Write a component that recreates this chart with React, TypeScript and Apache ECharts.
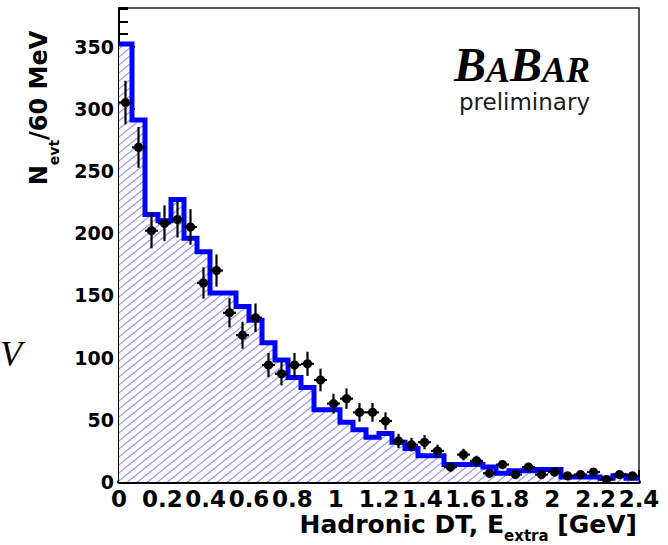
import React, { useEffect, useRef } from "react";
import * as echarts from "echarts";

// Histogram binning (GeV)
const BIN_WIDTH = 0.06;
const X_MIN = 0;
const X_MAX = 2.4;
const Y_MAX = 381;

// Simulated (blue) histogram, counts per 60 MeV bin
const mcCounts = [
  352, 291, 215, 210, 227, 196, 185, 152, 152, 141,
  130, 112, 98, 84, 76, 58, 58, 48, 42, 36,
  39, 32, 27, 21, 21, 14, 14, 14, 12, 7,
  9, 9, 10, 10, 4, 4, 4, 3, 5, 3,
];

// Data points (black) per bin
const dataCounts = [
  305, 269, 202, 208, 211, 205, 160, 170, 136, 118,
  132, 94, 87, 94, 95, 82, 63, 67, 56, 56,
  49, 33, 30, 32, 25, 12, 22, 17, 7, 14,
  6, 12, 6, 8, 5, 6, 8, 2, 6, 5,
];

// Statistical errors of the data points
const dataErrors = [
  17.5, 16.4, 14.2, 14.4, 14.5, 14.3, 12.6, 13, 11.7, 10.9,
  11.5, 9.7, 9.3, 9.7, 9.7, 9.1, 7.9, 8.2, 7.5, 7.5,
  7, 5.7, 5.5, 5.7, 5, 3.5, 4.7, 4.1, 2.6, 3.7,
  2.4, 3.5, 2.4, 2.8, 2.2, 2.4, 2.8, 1.4, 2.4, 2.2,
];

const yTitleParts = ["N", "evt", "/60 MeV"];
const xTitleParts = ["Hadronic DT, E", "extra", " [GeV]"];
const logoParts = ["B", "A", "B", "AR"];
const logoSub = "preliminary";

const SANS = "DejaVu Sans";

function makeHatch(): HTMLCanvasElement {
  const w = 10;
  const h = 8;
  const c = document.createElement("canvas");
  c.width = w;
  c.height = h;
  const ctx = c.getContext("2d")!;
  ctx.fillStyle = "#ffffff";
  ctx.fillRect(0, 0, w, h);
  ctx.strokeStyle = "#9494f4";
  ctx.lineWidth = 1.15;
  for (const k of [-1, 0, 1]) {
    ctx.beginPath();
    ctx.moveTo(-2, h + (2 * h) / w + k * h);
    ctx.lineTo(w + 2, h - ((w + 2) * h) / w + k * h);
    ctx.stroke();
  }
  return c;
}

export default function App() {
  const ref = useRef<HTMLDivElement>(null);

  useEffect(() => {
    if (!ref.current) return;
    const chart = echarts.init(ref.current, undefined, { renderer: "svg" });

    const stepData: number[][] = [];
    mcCounts.forEach((v, i) => {
      stepData.push([i * BIN_WIDTH, v]);
      stepData.push([(i + 1) * BIN_WIDTH, v]);
    });

    const pointData = dataCounts.map((v, i) => [
      (i + 0.5) * BIN_WIDTH,
      v,
      dataErrors[i],
    ]);

    const hatch = makeHatch();

    const option: any = {
      animation: false,
      backgroundColor: "#ffffff",
      grid: {
        left: 119,
        right: 29,
        top: 8,
        bottom: 63,
        show: true,
        borderColor: "#222",
        borderWidth: 1.5,
        backgroundColor: "transparent",
      },
      xAxis: {
        type: "value",
        min: X_MIN,
        max: X_MAX,
        interval: 0.2,
        axisLine: { show: true, onZero: false, lineStyle: { color: "#000", width: 4 } },
        axisTick: { show: true, inside: true, length: 12, lineStyle: { color: "#000", width: 2 } },
        minorTick: { show: true, splitNumber: 4, length: 6, lineStyle: { color: "#000", width: 2 } },
        axisLabel: {
          margin: 6,
          color: "#000",
          fontFamily: SANS,
          fontWeight: "bold",
          fontSize: 23,
          lineHeight: 21,
          formatter: (v: number) => String(Math.round(v * 10) / 10),
        },
        splitLine: { show: false },
        minorSplitLine: { show: false },
      },
      yAxis: [
        {
          type: "value",
          min: 0,
          max: Y_MAX,
          interval: 50,
          position: "left",
          axisLine: { show: true, onZero: false, lineStyle: { color: "#000", width: 2 } },
          axisTick: { show: true, inside: true, length: 16, lineStyle: { color: "#000", width: 2 } },
          axisLabel: {
            margin: 5,
            color: "#000",
            fontFamily: SANS,
            fontWeight: "bold",
            fontSize: 19,
            showMaxLabel: false,
          },
          splitLine: { show: false },
        },
        {
          type: "value",
          min: 0,
          max: Y_MAX,
          interval: 10,
          position: "left",
          axisLine: { show: false },
          axisTick: { show: true, inside: true, length: 9, lineStyle: { color: "#000", width: 2 } },
          axisLabel: { show: false },
          splitLine: { show: false },
        },
      ],
      series: [
        {
          type: "line",
          data: stepData,
          yAxisIndex: 0,
          symbol: "none",
          z: 2,
          lineStyle: { color: "#0000ff", width: 5, join: "miter", cap: "butt" },
          areaStyle: {
            color: { image: hatch, repeat: "repeat" },
            opacity: 1,
          },
        },
        {
          type: "custom",
          coordinateSystem: "cartesian2d",
          yAxisIndex: 0,
          z: 5,
          data: pointData,
          encode: { x: 0, y: 1 },
          renderItem: (params: any, api: any) => {
            const x = api.value(0);
            const y = api.value(1);
            const e = api.value(2);
            const c = api.coord([x, y]);
            const top = api.coord([x, y + e]);
            const bot = api.coord([x, Math.max(0, y - e)]);
            const l = api.coord([x - BIN_WIDTH / 2, y]);
            const r = api.coord([x + BIN_WIDTH / 2, y]);
            return {
              type: "group",
              children: [
                {
                  type: "line",
                  shape: { x1: c[0], y1: top[1], x2: c[0], y2: bot[1] },
                  style: { stroke: "#000", lineWidth: 2.2 },
                },
                {
                  type: "line",
                  shape: { x1: l[0], y1: c[1], x2: r[0], y2: c[1] },
                  style: { stroke: "#000", lineWidth: 2.2 },
                },
                {
                  type: "circle",
                  shape: { cx: c[0], cy: c[1], r: 4.6 },
                  style: { fill: "#000" },
                },
              ],
            };
          },
        },
      ],
      graphic: [
        {
          type: "text",
          x: 27,
          y: 108,
          rotation: Math.PI / 2,
          style: {
            text: `{a|${yTitleParts[0]}}{b|${yTitleParts[1]}}{a|${yTitleParts[2]}}`,
            align: "center",
            verticalAlign: "top",
            rich: {
              a: {
                fontFamily: SANS,
                fontWeight: "bold",
                fontSize: 24,
                lineHeight: 24,
                verticalAlign: "top",
                fill: "#000",
              },
              b: {
                fontFamily: SANS,
                fontWeight: "bold",
                fontSize: 14,
                lineHeight: 34,
                verticalAlign: "bottom",
                fill: "#000",
              },
            },
          },
        },
        {
          type: "text",
          x: 637,
          y: 512,
          style: {
            text: `{a|${xTitleParts[0]}}{b|${xTitleParts[1]}}{a|${xTitleParts[2]}}`,
            align: "right",
            verticalAlign: "top",
            rich: {
              a: {
                fontFamily: SANS,
                fontWeight: "bold",
                fontSize: 25,
                lineHeight: 25,
                verticalAlign: "top",
                fill: "#000",
              },
              b: {
                fontFamily: SANS,
                fontWeight: "bold",
                fontSize: 15,
                lineHeight: 31,
                verticalAlign: "bottom",
                fill: "#000",
              },
            },
          },
        },
        {
          type: "text",
          x: 590,
          y: 88,
          style: {
            text: `{B|${logoParts[0]}}{A|${logoParts[1]}}{B|${logoParts[2]}}{A|${logoParts[3]}}`,
            align: "right",
            verticalAlign: "bottom",
            rich: {
              B: {
                fontFamily: "Liberation Serif",
                fontStyle: "italic",
                fontWeight: "bold",
                fontSize: 48,
                lineHeight: 48,
                verticalAlign: "bottom",
                fill: "#000",
              },
              A: {
                fontFamily: "Liberation Serif",
                fontStyle: "italic",
                fontWeight: "bold",
                fontSize: 36,
                lineHeight: 39.8,
                verticalAlign: "bottom",
                fill: "#000",
              },
            },
          },
        },
        {
          type: "text",
          x: 590,
          y: 102,
          style: {
            text: logoSub,
            align: "right",
            verticalAlign: "middle",
            fontFamily: SANS,
            fontSize: 23,
            fill: "#1a1a1a",
          },
        },
        {
          type: "text",
          x: 0,
          y: 354,
          style: {
            text: "V",
            align: "left",
            verticalAlign: "middle",
            fontFamily: "Liberation Serif",
            fontStyle: "italic",
            fontSize: 36,
            fill: "#000",
          },
        },
      ],
    };

    chart.setOption(option);
    return () => chart.dispose();
  }, []);

  return (
    <div
      ref={ref}
      style={{ position: "fixed", left: 0, top: 0, width: 668, height: 545, background: "#fff" }}
    />
  );
}
